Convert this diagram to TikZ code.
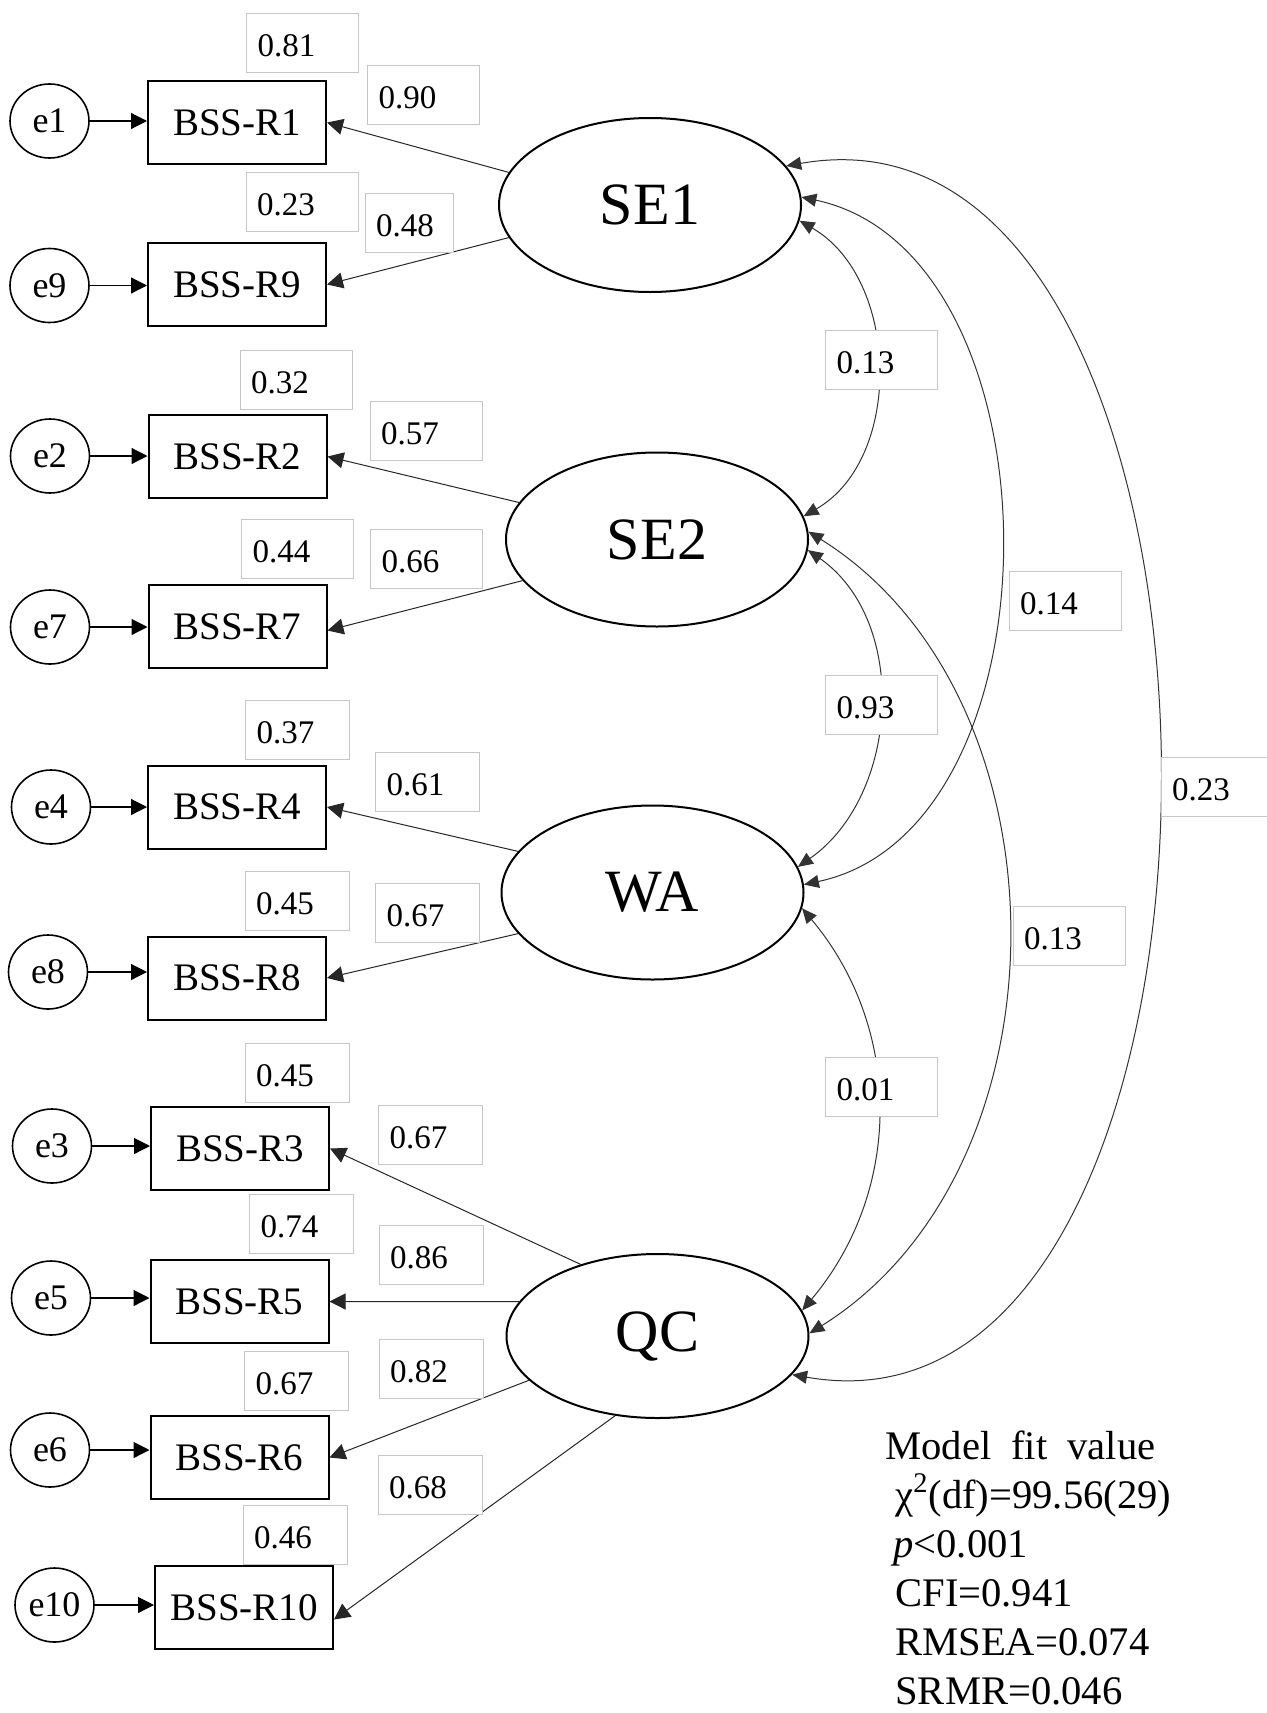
\documentclass[tikz,border=0pt]{standalone}
\usepackage{fontspec}
\setmainfont{Liberation Serif}
\usetikzlibrary{arrows.meta, shapes.geometric}
\tikzset{
  obs/.style={draw, line width=1pt, minimum width=89pt, minimum height=41.5pt,
              inner sep=0pt, font=\fontsize{19.5}{22}\selectfont},
  err/.style={draw, ellipse, line width=0.8pt, minimum width=39.5pt, minimum height=37pt,
              inner sep=0pt, font=\fontsize{18}{20}\selectfont},
  lat/.style={draw, ellipse, line width=1pt, minimum width=151pt, minimum height=87pt,
              inner sep=0pt, font=\fontsize{30}{32}\selectfont},
  lbl/.style={draw=gray!45, line width=0.5pt, fill=white, minimum height=29.5pt,
              inner xsep=5.5pt, inner ysep=0pt, text width=45pt, align=left,
              text height=13.5pt, text depth=0pt, font=\fontsize{16.5}{18}\selectfont},
  lbln/.style={lbl, text width=41pt},
  arr/.style={-{Triangle[length=8pt, width=8pt]}, line width=0.6pt},
  load/.style={-{Triangle[length=8pt, width=8pt]}, line width=0.5pt, draw=black!85},
  cov/.style={{Triangle[length=7.5pt, width=6.5pt]}-{Triangle[length=7.5pt, width=6.5pt]},
              line width=0.5pt, draw=black!80},
}

\begin{document}
\begin{tikzpicture}[x=0.5pt, y=-0.5pt]
  \useasboundingbox (0,0) rectangle (1267,1713);
  % latent factors
  \node[lat] (se1) at (650,205) {SE1};
  \node[lat] (se2) at (657,539.5) {SE2};
  \node[lat] (wa) at (652.5,892.5) {WA};
  \node[lat, minimum height=82pt] (qc) at (657.5,1336) {QC};
  % observed items and their errors
  \node[obs] (r1) at (237,122.5) {BSS-R1};
  \node[err] (e1) at (49.5,121) {e1};
  \node[obs] (r9) at (237,284.5) {BSS-R9};
  \node[err] (e9) at (49.5,285.5) {e9};
  \node[obs] (r2) at (237.5,456.5) {BSS-R2};
  \node[err] (e2) at (50,456) {e2};
  \node[obs] (r7) at (237.5,626.5) {BSS-R7};
  \node[err] (e7) at (50,627) {e7};
  \node[obs] (r4) at (237,807) {BSS-R4};
  \node[err] (e4) at (51,807) {e4};
  \node[obs] (r8) at (237,978) {BSS-R8};
  \node[err] (e8) at (48,972) {e8};
  \node[obs] (r3) at (240,1148.5) {BSS-R3};
  \node[err] (e3) at (52,1146) {e3};
  \node[obs] (r5) at (239.5,1301.5) {BSS-R5};
  \node[err] (e5) at (51,1298) {e5};
  \node[obs] (r6) at (239.5,1457.5) {BSS-R6};
  \node[err] (e6) at (50,1450) {e6};
  \node[obs] (r10) at (244,1607.5) {BSS-R10};
  \node[err] (e10) at (54.5,1605) {e10};
  \draw[arr] (e1.east) -- (e1.east -| r1.west);
  \draw[arr] (e9.east) -- (e9.east -| r9.west);
  \draw[arr] (e2.east) -- (e2.east -| r2.west);
  \draw[arr] (e7.east) -- (e7.east -| r7.west);
  \draw[arr] (e4.east) -- (e4.east -| r4.west);
  \draw[arr] (e8.east) -- (e8.east -| r8.west);
  \draw[arr] (e3.east) -- (e3.east -| r3.west);
  \draw[arr] (e5.east) -- (e5.east -| r5.west);
  \draw[arr] (e6.east) -- (e6.east -| r6.west);
  \draw[arr] (e10.east) -- (e10.east -| r10.west);
  % loadings
  \draw[load] (se1.167) -- (r1.east);
  \draw[load] (se1.193) -- (r9.east);
  \draw[load] (se2.165) -- (r2.east);
  \draw[load] (se2.197) -- ([yshift=-2pt]r7.east);
  \draw[load] (wa.163) -- (r4.east);
  \draw[load] (wa.197) -- (r8.east);
  \draw[load] (qc.137) -- (r3.east);
  \draw[load] (qc.166) -- (r5.east);
  \draw[load] (qc.199) -- (r6.east);
  \draw[load] (qc.242) -- ([yshift=-6pt]r10.east);
  % covariances
  \draw[cov] (se1.-6) to[out=-30, in=30] (se2.9);
  \draw[cov] (se2.-4) to[out=-35, in=35] (wa.10);
  \draw[cov] (wa.-6) to[out=-50, in=50] (qc.10);
  \draw[cov] (se1.3) to[out=-12, in=12] (wa.3.5);
  \draw[cov] (se2.3) to[out=-32, in=32] (qc.1);
  \draw[cov] (se1.16) to[out=10, in=-10, looseness=1.055] (qc.-16);
  % estimates
  \node[lbl] (r1var) at (302.5,42.5) {0.81};
  \node[lbl] (r1ld) at (423.5,94.5) {0.90};
  \node[lbl] (r9var) at (302,202) {0.23};
  \node[lbl, text width=33pt] (r9ld) at (409,222.5) {0.48};
  \node[lbl] (r2var) at (296,379.5) {0.32};
  \node[lbl] (r2ld) at (426,430.5) {0.57};
  \node[lbl] (r7var) at (297.5,549) {0.44};
  \node[lbl] (r7ld) at (426.5,559) {0.66};
  \node[lbln] (r4var) at (297.5,729.5) {0.37};
  \node[lbln] (r4ld) at (427.5,781.5) {0.61};
  \node[lbln] (r8var) at (297,901) {0.45};
  \node[lbln] (r8ld) at (427.5,912.5) {0.67};
  \node[lbln] (r3var) at (297,1073) {0.45};
  \node[lbln] (r3ld) at (430.5,1135) {0.67};
  \node[lbln] (r5var) at (301.5,1224) {0.74};
  \node[lbln] (r5ld) at (431,1254.5) {0.86};
  \node[lbln] (r6var) at (296.5,1381) {0.67};
  \node[lbln] (r6ld) at (431,1368.5) {0.82};
  \node[lbln] (r10ld) at (430,1484.5) {0.68};
  \node[lbln] (r10var) at (295,1535) {0.46};
  \node[lbl] (c12) at (881.5,359.5) {0.13};
  \node[lbl] (c23) at (881.5,704.5) {0.93};
  \node[lbl] (c34) at (881.5,1086.5) {0.01};
  \node[lbl] (c13) at (1065,601) {0.14};
  \node[lbl] (c24) at (1069,936) {0.13};
  \node[lbl] (c14) at (1217,787) {0.23};
  % fit indices
  \node[anchor=north west, inner sep=0pt, align=left,
        font=\fontsize{20.3}{24.5}\selectfont] (modelfit) at (885,1430)
    {Model\hspace{10pt}fit\hspace{10pt}value\\
     \hspace*{5pt}χ\textsuperscript{2}(df)=99.56(29)\\
     \hspace*{4pt}\textit{p}<0.001\\
     \hspace*{5pt}CFI=0.941\\
     \hspace*{5pt}RMSEA=0.074\\
     \hspace*{5pt}SRMR=0.046};
\end{tikzpicture}
\end{document}
